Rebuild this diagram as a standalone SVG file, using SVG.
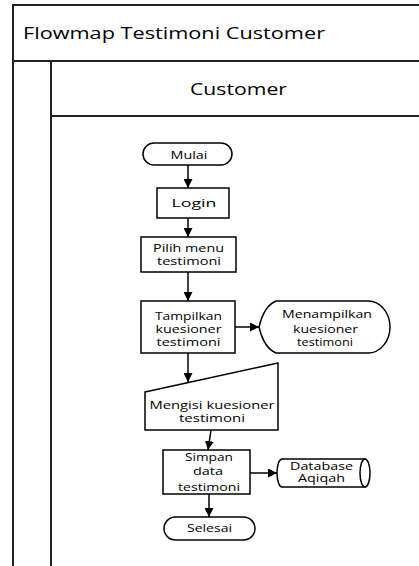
<svg xmlns="http://www.w3.org/2000/svg" width="419" height="566" viewBox="0 0 419 566">
  <style>
    .lane { fill: none; stroke: #222; stroke-width: 2; }
    .shape { fill: #fff; stroke: #000; stroke-width: 1.5; }
    .flow { fill: none; stroke: #000; stroke-width: 1.5; marker-end: url(#arrow); }
    text { font-family: "Open Sans", "Noto Sans", sans-serif; fill: #000; }
    .t { font-size: 11px; text-anchor: middle; }
    .head { font-size: 15.5px; }
  </style>
  <defs>
    <marker id="arrow" viewBox="0 0 10 10" refX="10" refY="5" markerWidth="9" markerHeight="9" markerUnits="userSpaceOnUse" orient="auto">
      <path d="M0,0 L10,5 L0,10 z" fill="#000"/>
    </marker>
  </defs>
  <rect width="419" height="566" fill="#fff"/>

  <!-- swimlane frame -->
  <g id="pool">
    <path class="lane" d="M13,566 V5 H420 M13,61 H420 M51,566 V61 M51,116 H420"/>
    <text class="head" x="23" y="39" textLength="302" lengthAdjust="spacingAndGlyphs">Flowmap Testimoni Customer</text>
    <text class="head" x="190" y="95" textLength="97" lengthAdjust="spacingAndGlyphs">Customer</text>
  </g>

  <!-- connectors -->
  <g id="connectors">
    <line class="flow" x1="188" y1="165" x2="188" y2="188"/>
    <line class="flow" x1="188" y1="218" x2="188" y2="237"/>
    <line class="flow" x1="188" y1="272" x2="188" y2="301"/>
    <line class="flow" x1="235" y1="327" x2="259" y2="327"/>
    <line class="flow" x1="188" y1="353" x2="188" y2="382"/>
    <line class="flow" x1="211" y1="430" x2="208" y2="450"/>
    <line class="flow" x1="250" y1="473" x2="277" y2="473"/>
    <line class="flow" x1="209" y1="494" x2="209" y2="517"/>
  </g>

  <g id="mulai">
    <rect class="shape" x="143" y="143" width="89" height="22" rx="11"/>
    <text class="t" x="189" y="159" textLength="37" lengthAdjust="spacingAndGlyphs">Mulai</text>
  </g>

  <g id="login">
    <rect class="shape" x="157" y="188" width="72" height="30"/>
    <text class="t" x="194" y="207" textLength="45" lengthAdjust="spacingAndGlyphs">Login</text>
  </g>

  <g id="pilih-menu">
    <rect class="shape" x="141" y="237" width="95" height="35"/>
    <text class="t" x="188.5" y="252" textLength="71" lengthAdjust="spacingAndGlyphs">Pilih menu</text>
    <text class="t" x="189" y="265" textLength="64" lengthAdjust="spacingAndGlyphs">testimoni</text>
  </g>

  <g id="tampilkan">
    <rect class="shape" x="141" y="301" width="94" height="52"/>
    <text class="t" x="188.5" y="320" textLength="67" lengthAdjust="spacingAndGlyphs">Tampilkan</text>
    <text class="t" x="188.5" y="333" textLength="66" lengthAdjust="spacingAndGlyphs">kuesioner</text>
    <text class="t" x="188.5" y="346" textLength="64" lengthAdjust="spacingAndGlyphs">testimoni</text>
  </g>

  <g id="menampilkan">
    <path class="shape" d="M259,327 Q264,306 276,301 L368,301 A22,26 0 0 1 368,353 L276,353 Q264,348 259,327 Z"/>
    <text class="t" x="327" y="318" textLength="90" lengthAdjust="spacingAndGlyphs">Menampilkan</text>
    <text class="t" x="325.5" y="333" textLength="65" lengthAdjust="spacingAndGlyphs">kuesioner</text>
    <text class="t" x="325" y="346" textLength="56" lengthAdjust="spacingAndGlyphs">testimoni</text>
  </g>

  <g id="mengisi">
    <path class="shape" d="M145,392 L278,363 L278,430 L145,430 Z"/>
    <text class="t" x="212" y="409" textLength="125" lengthAdjust="spacingAndGlyphs">Mengisi kuesioner</text>
    <text class="t" x="212" y="422" textLength="66" lengthAdjust="spacingAndGlyphs">testimoni</text>
  </g>

  <g id="simpan">
    <rect class="shape" x="163" y="450" width="87" height="44"/>
    <text class="t" x="209" y="461" textLength="48" lengthAdjust="spacingAndGlyphs">Simpan</text>
    <text class="t" x="208" y="475" textLength="30" lengthAdjust="spacingAndGlyphs">data</text>
    <text class="t" x="209" y="491" textLength="62" lengthAdjust="spacingAndGlyphs">testimoni</text>
  </g>

  <g id="database">
    <path class="shape" d="M282,459 L365,459 L365,487 L282,487 A5,14 0 0 1 282,459 Z"/>
    <ellipse class="shape" cx="365" cy="473" rx="5" ry="14"/>
    <text class="t" x="321.5" y="470" textLength="63" lengthAdjust="spacingAndGlyphs">Database</text>
    <text class="t" x="321.5" y="482" textLength="47" lengthAdjust="spacingAndGlyphs">Aqiqah</text>
  </g>

  <g id="selesai">
    <rect class="shape" x="164" y="517" width="91" height="23" rx="11.5"/>
    <text class="t" x="209.5" y="532" textLength="45" lengthAdjust="spacingAndGlyphs">Selesai</text>
  </g>
</svg>
